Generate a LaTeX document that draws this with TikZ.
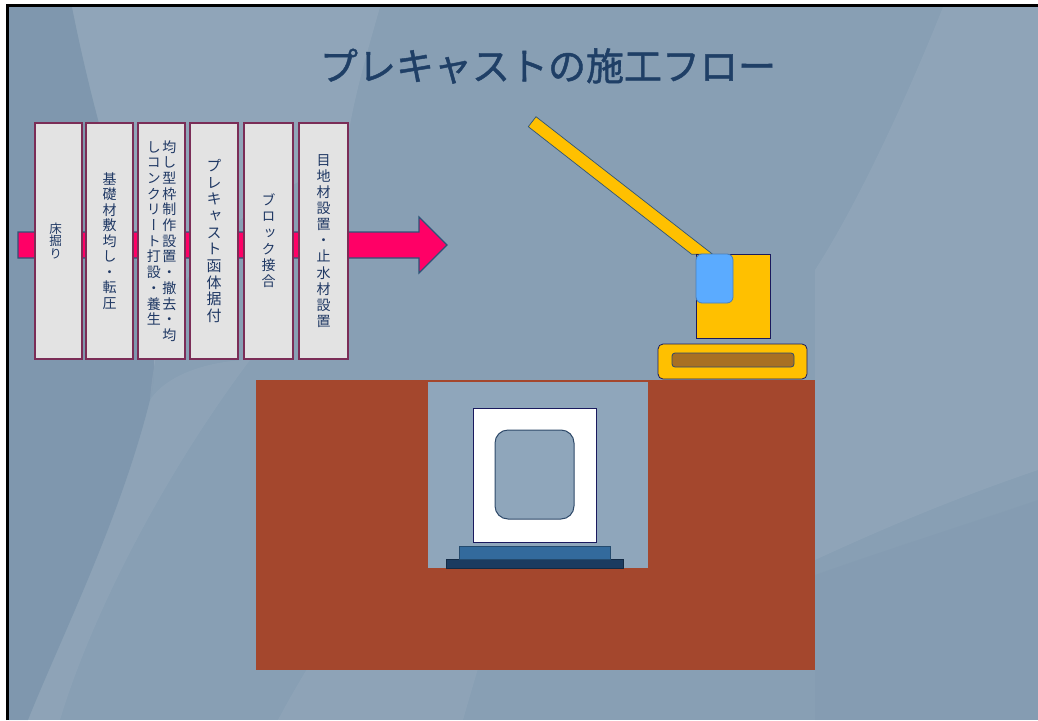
\documentclass[tikz,border=0pt]{standalone}
\usepackage{fontspec}
\newfontfamily\jp[FakeBold=1.2]{Noto Sans CJK JP}
\newfontfamily\jpv[RawFeature=+vert]{Noto Sans CJK JP}

% one character per line, for upright vertical writing
\makeatletter
\newcommand\vtext[2][1.12]{\vtop{\baselineskip=#1em\lineskip=0pt\lineskiplimit=-100pt
  \@tfor\vt@c:=#2\do{\hbox to 1em{\hss\vt@c\hss}}}}
\makeatother

\definecolor{bgbase}{HTML}{889FB4}
\definecolor{bgdark}{HTML}{6F8AA3}
\definecolor{titleblue}{HTML}{1F3F66}
\definecolor{boxtext}{HTML}{1F3864}
\definecolor{boxedge}{HTML}{7B2D57}
\definecolor{boxL}{HTML}{F2F2F2}
\definecolor{boxM}{HTML}{E3E3E3}
\definecolor{boxR}{HTML}{A8A8A8}
\definecolor{arrowpink}{HTML}{FF0066}
\definecolor{arrowedge}{HTML}{2E5478}
\definecolor{soil}{HTML}{A4472D}
\definecolor{pit}{HTML}{8FA6BB}
\definecolor{craneyellow}{HTML}{FFC000}
\definecolor{glass}{HTML}{5BABFF}
\definecolor{glassedge}{HTML}{4A7FB8}
\definecolor{navy}{HTML}{1A1A5E}
\definecolor{holeedge}{HTML}{2F4A6A}
\definecolor{slabA}{HTML}{336A9C}
\definecolor{slabB}{HTML}{1B3B60}
\definecolor{trackbrown}{HTML}{A87023}

% light grey face with darker bevelled sides
\pgfdeclarehorizontalshading{boxshade}{100bp}{color(0bp)=(boxR); color(8bp)=(boxL);
  color(16bp)=(boxM); color(84bp)=(boxM); color(94bp)=(boxR!60!boxM); color(100bp)=(boxR)}

\tikzset{
  stepbox/.style={draw=boxedge, line width=1.3pt, shading=boxshade, minimum height=236pt,
    inner sep=0pt, text=boxtext, font=\jpv\fontsize{14pt}{16pt}\selectfont},
  flowarrow/.style={fill=arrowpink, draw=arrowedge, line width=1.2pt, line join=miter},
  yellowpart/.style={fill=craneyellow, draw=navy, line width=0.8pt},
}

\begin{document}
\begin{tikzpicture}[x=1pt,y=-1pt]
  \useasboundingbox (0,0) rectangle (1038,720);
  \fill[white] (0,0) rectangle (1038,720);

  % slide background with soft swooshes
  \fill[bgbase] (9,7) rectangle (1038,720);
  \fill[bgdark, opacity=0.35] (9,7) -- (72,7) .. controls (110,200) and (170,320) .. (150,400)
      .. controls (120,520) and (60,640) .. (28,720) -- (9,720) -- cycle;
  \fill[white, opacity=0.07] (72,7) -- (380,7) .. controls (365,60) and (350,110) .. (345,160)
      .. controls (250,200) and (160,260) .. (150,400) .. controls (170,320) and (110,200) .. (72,7) -- cycle;
  \fill[white, opacity=0.05] (150,400) .. controls (170,370) and (220,360) .. (250,360)
      .. controls (160,480) and (90,620) .. (60,720) -- (28,720) .. controls (60,640) and (120,520) .. (150,400) -- cycle;
  \fill[white, opacity=0.05] (278,720) .. controls (320,640) and (380,560) .. (430,500) -- (520,500)
      .. controls (500,600) and (480,660) .. (463,720) -- cycle;
  \fill[white, opacity=0.06] (943,7) -- (1038,7) -- (1038,470) .. controls (950,500) and (880,530) .. (815,560)
      -- (815,270) .. controls (860,200) and (910,90) .. (943,7) -- cycle;
  \fill[bgdark, opacity=0.10] (815,575) .. controls (900,545) and (980,520) .. (1038,500) -- (1038,720) -- (815,720) -- cycle;

  % frame
  \draw[black, line width=3pt] (7.5,720) -- (7.5,5.5) -- (1038,5.5);

  % title
  \node[font=\jp\fontsize{38pt}{40pt}\selectfont, text=titleblue] (title) at (548,66) {プレキャストの施工フロー};

  % flow arrow behind the steps
  \draw[flowarrow] (18,232) -- (419,232) -- (419,217) -- (447,245) -- (419,273) -- (419,258) -- (18,258) -- cycle;

  % construction steps
  \node[stepbox, minimum width=47pt, font=\jpv\fontsize{12.5pt}{14pt}\selectfont] (s1) at (58.5,241)
      {\hspace*{-6pt}\vtext[1.0]{床掘り}};
  \node[stepbox, minimum width=47pt] (s2) at (109.5,241) {\vtext[1.11]{基礎材敷均し・転圧}};
  \node[stepbox, minimum width=47pt] (s3) at (161.5,241)
      {\vtext[1.12]{しコンクリート打設・養生}\hspace{1.5pt}\vtext[1.12]{均し型枠制作設置・撤去・均}};
  \node[stepbox, minimum width=48pt, font=\jpv\fontsize{15pt}{16pt}\selectfont] (s4) at (214,241)
      {\vtext[1.11]{プレキャスト函体据付}};
  \node[stepbox, minimum width=49pt] (s5) at (268.5,241) {\vtext[1.16]{ブロック接合}};
  \node[stepbox, minimum width=49pt] (s6) at (323.5,241) {\vtext[1.15]{目地材設置・止水材設置}};

  % ground with excavated pit
  \fill[soil] (256,380) rectangle (815,670);
  \fill[pit] (428,381.5) rectangle (648,568);

  % precast box culvert on its base slabs
  \draw[fill=slabB, draw=slabB!70!black, line width=0.8pt] (446,559) rectangle (623,568);
  \draw[fill=slabA, draw=slabA!70!black, line width=0.8pt] (459,546) rectangle (610,559);
  \draw[fill=white, draw=navy, line width=1pt] (473,408) rectangle (596,542);
  \draw[fill=pit, draw=holeedge, line width=1pt, rounded corners=13pt] (495,430) rectangle (574,519);

  % crane
  \draw[fill=craneyellow, draw=arrowedge, line width=0.7pt] (528.3,126.7) -- (536,116.7) -- (712.7,254.3) -- (691.7,254.3) -- cycle;
  \draw[yellowpart] (696,254) rectangle (770,338);
  \draw[fill=glass, draw=glassedge, line width=0.8pt, rounded corners=6pt] (696,254) rectangle (733,303);
  \draw[yellowpart, rounded corners=5pt] (658,344) rectangle (807,379);
  \draw[fill=trackbrown, draw=holeedge, line width=0.8pt, rounded corners=3pt] (672,353) rectangle (794,367);
\end{tikzpicture}
\end{document}
